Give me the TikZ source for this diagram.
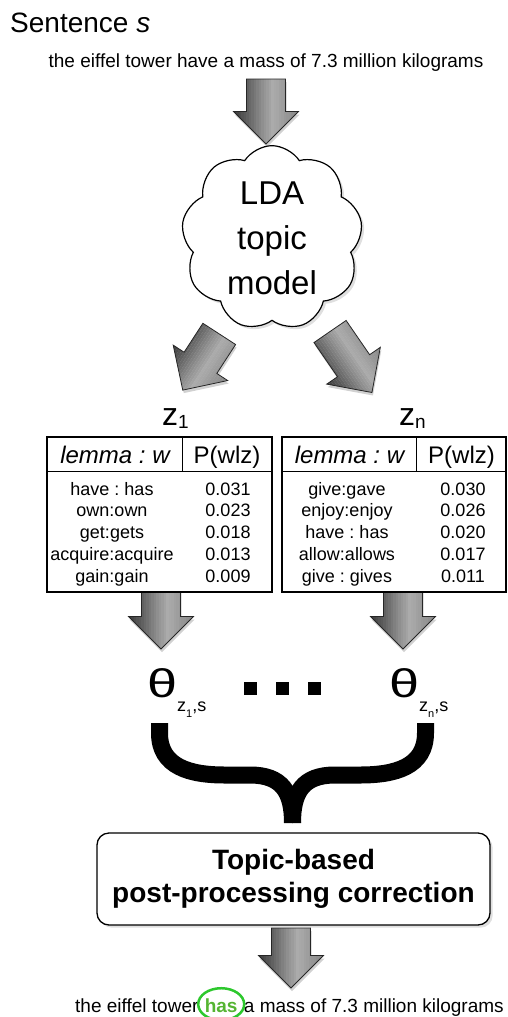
\documentclass[tikz,border=0pt]{standalone}
\usepackage{fontspec}
\setmainfont{Liberation Sans}
\usetikzlibrary{positioning,shapes,shadows}
\definecolor{hasgreen}{RGB}{85,180,50}
\definecolor{ringgreen}{RGB}{45,200,45}
\frenchspacing
% block arrow: centre x, centre y, angle, length
\newcommand{\fatarrow}[4]{%
  \def\arrowpath{(-#4/2,-19.5) -- ({#4/2-32.5},-19.5) -- ({#4/2-32.5},-32.5) -- (#4/2,0) -- ({#4/2-32.5},32.5) -- ({#4/2-32.5},19.5) -- (-#4/2,19.5) -- cycle}%
  \begin{scope}[shift={(#1+1,#2+3)},rotate=#3]
    \fill[black,opacity=0.18] \arrowpath;
  \end{scope}
  \begin{scope}[shift={(#1,#2)},rotate=#3]
    \begin{scope}
      \clip \arrowpath;
      \foreach \s in {0,...,25} {
        \pgfmathsetmacro\t{(\s+0.5)/26}
        \pgfmathtruncatemacro\p{\t<0.6 ? 78-75*\t : 33+37.5*(\t-0.6)}
        \fill[black!\p] (-#4/2-1,32.5-\s*2.5) rectangle (#4/2+1,29.9-\s*2.5);
      }
    \end{scope}
    \draw[black!85,line width=0.8pt] \arrowpath;
  \end{scope}}

\begin{document}
\begin{tikzpicture}[x=1pt,y=-1pt,
  sent/.style={font=\fontsize{19}{19}\selectfont,inner sep=0pt,anchor=base west},
  tab/.style={draw,fill=white,line width=1.3pt,minimum height=155pt,inner sep=0pt},
  hd/.style={font=\fontsize{24}{24}\selectfont,anchor=base,inner sep=0pt},
  cell/.style={font=\fontsize{18}{18}\selectfont,anchor=base,inner sep=0pt},
  dot/.style={fill=black,minimum size=13pt,inner sep=0pt}]
\useasboundingbox (0,0) rectangle (507,1017);
% input sentence
\node[anchor=base west,inner sep=0pt,font=\fontsize{28}{28}\selectfont] (title) at (10,32) {Sentence \textit{s}};
\node[sent,anchor=base] (in) at (266,67) {the eiffel tower have a mass of 7.3 million kilograms};
\fatarrow{266}{111.5}{-90}{65}
% topic model
\node[cloud,cloud ignores aspect,draw,fill=white,line width=1.2pt,cloud puffs=9,cloud puff arc=115,minimum width=181pt,minimum height=163pt,align=center,font=\fontsize{33}{45}\selectfont,drop shadow={opacity=0.25}] (lda) at (272,238) {LDA\\topic\\model};
\fatarrow{201}{362}{237}{67}
\fatarrow{351}{362}{304.5}{74}
% topics
\node[anchor=base west,inner sep=0pt] (z1) at (162,425) {\fontsize{32}{32}\selectfont z\raisebox{-3pt}{\fontsize{19}{19}\selectfont 1}};
\node[anchor=base west,inner sep=0pt] (zn) at (399,425) {\fontsize{32}{32}\selectfont z\raisebox{-3pt}{\fontsize{19}{19}\selectfont n}};
\foreach \x in {161,403}
  \fatarrow{\x}{619.5}{-90}{59}
\node[tab,minimum width=225pt] (t1) at (159.5,514.5) {};
\node[tab,minimum width=224pt] (tn) at (394,514.5) {};
\foreach \t/\d in {t1/136,tn/135} {
  \draw[line width=1.3pt] ([yshift=-35pt]\t.north west) -- ([yshift=-35pt]\t.north east);
  \draw[line width=1.3pt] ([xshift=\d pt]\t.north west) -- ++(0,35);
}
\node[hd] (h1w) at (115,463) {\itshape lemma : w};
\node[hd] (h1p) at (227,463) {P(wlz)};
\node[hd] (hnw) at (349.5,463) {\itshape lemma : w};
\node[hd] (hnp) at (461.5,463) {P(wlz)};
\foreach \w/\p [count=\i] in {have : has/0.031,own:own/0.023,get:gets/0.018,acquire:acquire/0.013,gain:gain/0.009} {
  \node[cell] (w1\i) at (112,495+21.9*\i-21.9) {\w};
  \node[cell] (p1\i) at (228,495+21.9*\i-21.9) {\p};
}
\foreach \w/\p [count=\i] in {give:gave/0.030,enjoy:enjoy/0.026,have : has/0.020,allow:allows/0.017,give : gives/0.011} {
  \node[cell] (wn\i) at (347,495+21.9*\i-21.9) {\w};
  \node[cell] (pn\i) at (463,495+21.9*\i-21.9) {\p};
}
% topic weights
\node[anchor=base west,inner sep=0pt] (th1) at (147,697) {\fontsize{40}{40}\selectfont\scalebox{1.35}[1]{θ}\raisebox{-14pt}{\fontsize{18}{18}\selectfont z\raisebox{-6pt}{\fontsize{11}{11}\selectfont 1},s}};
\node[anchor=base west,inner sep=0pt] (thn) at (389,697) {\fontsize{40}{40}\selectfont\scalebox{1.35}[1]{θ}\raisebox{-14pt}{\fontsize{18}{18}\selectfont z\raisebox{-6pt}{\fontsize{11}{11}\selectfont n},s}};
\foreach \x [count=\i] in {250,282,314}
  \node[dot] (dot\i) at (\x,688) {};
\draw[line width=17pt] (159.5,723) -- (159.5,733) .. controls (159.5,767) and (190,775) .. (225,775) -- (250,775) .. controls (282,775) and (292.5,792) .. (292.5,823);
\draw[line width=17pt] (425.5,723) -- (425.5,733) .. controls (425.5,767) and (395,775) .. (360,775) -- (335,775) .. controls (303,775) and (292.5,792) .. (292.5,823);
% correction
\fatarrow{291}{958}{-90}{60}
\node[draw,fill=white,line width=1.3pt,rounded corners=12pt,minimum width=393pt,minimum height=92pt,align=center,font=\fontsize{28}{33}\selectfont\bfseries,drop shadow={opacity=0.25}] (corr) at (293.5,879) {Topic-based\\post-processing correction};
\node[sent] (out1) at (75,1012) {the eiffel tower};
\node[sent,inner xsep=6pt,text=hasgreen,font=\fontsize{19}{19}\selectfont\bfseries] (has) at (out1.base east) {has};
\node[sent] (out2) at (has.base east) {a mass of 7.3 million kilograms};
\node[ellipse,draw=ringgreen,line width=2.5pt,minimum width=46pt,minimum height=32pt] (ring) at ([yshift=1pt]has.center) {};
\end{tikzpicture}
\end{document}
